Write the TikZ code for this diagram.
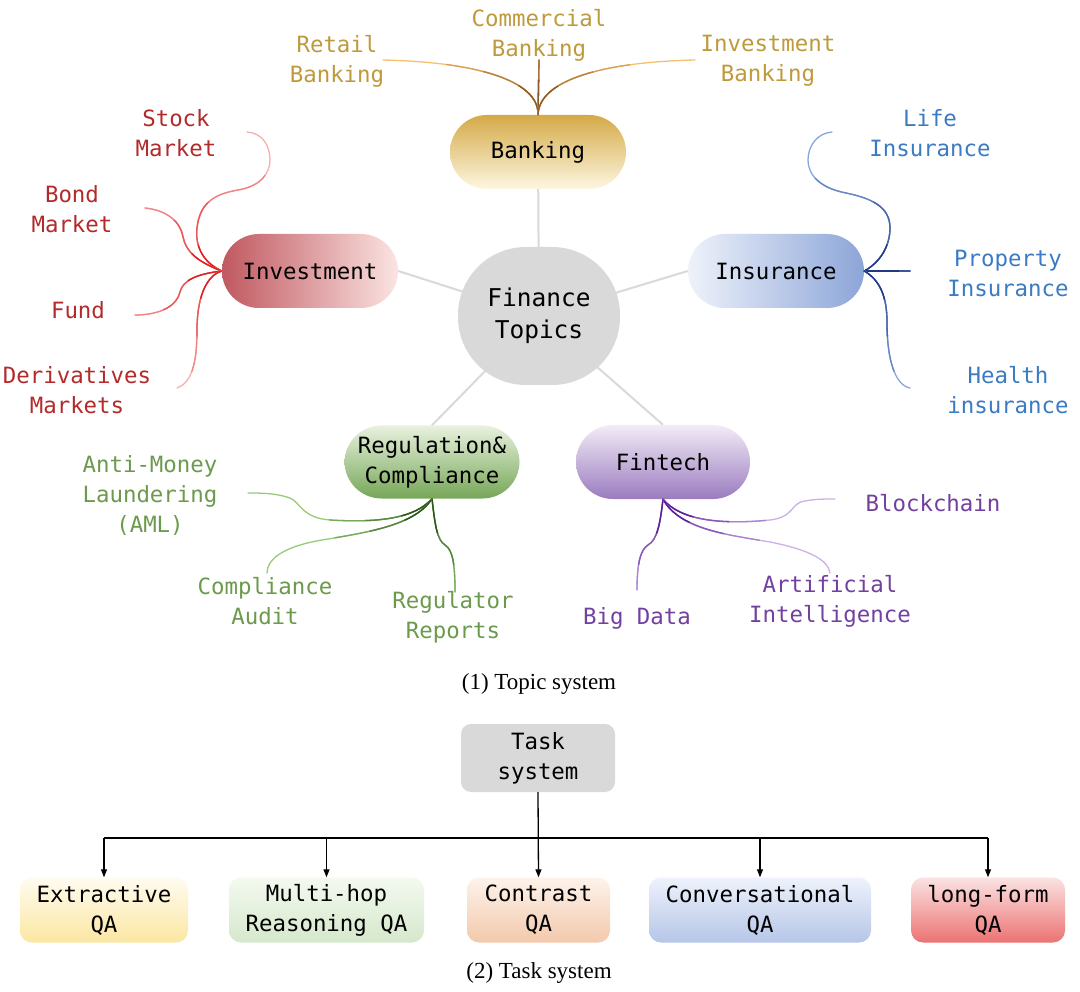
\documentclass[tikz,border=0pt]{standalone}
\usepackage{fontspec}
\setmainfont{Liberation Serif}
\newfontfamily\monof{DejaVu Sans Mono}
\usetikzlibrary{arrows.meta,backgrounds}
\definecolor{gline}{HTML}{D9D9D9}
\definecolor{bankt}{HTML}{BF9A3C}
\definecolor{bankd}{HTML}{8B5A2B}
\definecolor{bankl}{HTML}{F7C070}
\definecolor{invt}{HTML}{B32A2A}
\definecolor{invd}{HTML}{E21E1E}
\definecolor{invl}{HTML}{F7AFAF}
\definecolor{inst}{HTML}{3B7BC4}
\definecolor{insd}{HTML}{1F3A80}
\definecolor{insl}{HTML}{86A6DC}
\definecolor{regt}{HTML}{6C9A4C}
\definecolor{regd}{HTML}{2E5520}
\definecolor{regl}{HTML}{96CC78}
\definecolor{fint}{HTML}{7340A0}
\definecolor{find}{HTML}{5A1E96}
\definecolor{finl}{HTML}{CDB0E8}
\tikzset{
  mono/.style={font=\monof\fontsize{22.4}{30}\selectfont, align=center, inner sep=0pt},
  pill/.style={mono, minimum width=176pt, minimum height=74pt, rounded corners=37pt},
  leaf/.style={mono, yshift=-3pt},
  branch/.style={line width=1.3pt, line cap=round},
  hub/.style={draw=gline, line width=2pt},
  qabox/.style={mono, minimum height=65pt, rounded corners=12pt},
  tree/.style={line width=1.3pt, black},
  treearrow/.style={tree, -{Triangle[length=8pt,width=6pt]}},
  captext/.style={font=\fontsize{23}{26}\selectfont, inner sep=0pt}
}
% #1 anchor (node anchor near which colour is dark), #2 dark, #3 light, #4 path
\newcommand{\gradbranch}[4]{%
  \draw[branch,#3] #4;
  \begin{scope}\clip (#1) circle (105pt); \draw[branch,#2!30!#3] #4; \end{scope}
  \begin{scope}\clip (#1) circle (70pt); \draw[branch,#2!60!#3] #4; \end{scope}
  \begin{scope}\clip (#1) circle (35pt); \draw[branch,#2] #4; \end{scope}
}
\begin{document}
\begin{tikzpicture}[x=1pt,y=-1pt]
\useasboundingbox (0,0) rectangle (1080,992);

% main nodes
\node[mono, font=\monof\fontsize{24.5}{32}\selectfont, fill=gline, minimum width=162pt, minimum height=138pt, rounded corners=68pt] (center) at (539,316) {Finance\\Topics};
\node[pill, top color={rgb,255:red,212;green,170;blue,72}, bottom color={rgb,255:red,253;green,246;blue,224}] (bank) at (538,152) {Banking};
\node[pill, left color={rgb,255:red,192;green,88;blue,96}, right color={rgb,255:red,251;green,228;blue,226}] (inv) at (310,271) {Investment};
\node[pill, left color={rgb,255:red,238;green,242;blue,250}, right color={rgb,255:red,140;green,165;blue,216}] (ins) at (776,271) {Insurance};
\node[pill, minimum width=175pt, minimum height=73pt, top color={rgb,255:red,232;green,242;blue,222}, bottom color={rgb,255:red,118;green,166;blue,87}] (reg) at (432,462) {Regulation\&\\Compliance};
\node[pill, minimum width=174pt, top color={rgb,255:red,242;green,236;blue,246}, bottom color={rgb,255:red,154;green,123;blue,191}] (fin) at (663,462) {Fintech};

\begin{scope}[on background layer]
\fill[white] (0,0) rectangle (1080,992);
\draw[hub] (bank.center) -- (center.center);
\draw[hub] (inv.east) -- (center.center);
\draw[hub] (ins.west) -- (center.center);
\draw[hub] (reg.north) -- (center.center);
\draw[hub] (fin.north) -- (center.center);
\end{scope}

% Banking leaves
\coordinate (bR) at (383,60);
\coordinate (bC) at (539,60);
\coordinate (bI) at (695,60);
\node[leaf, text=bankt] (retail) at (337,58) {Retail\\Banking};
\node[leaf, text=bankt] (comm) at (539,32) {Commercial\\Banking};
\node[leaf, text=bankt] (ibank) at (768,58) {Investment\\Banking};
\gradbranch{bank.north}{bankd}{bankl}{(bank.north) .. controls (539,80) and (475,62) .. (bR)}
\gradbranch{bank.north}{bankd}{bankl!60!bankd}{(bank.north) -- (bC)}
\gradbranch{bank.north}{bankd}{bankl}{(bank.north) .. controls (539,80) and (603,62) .. (bI)}

% Investment leaves
\coordinate (iS) at (247,132);
\coordinate (iB) at (145,208);
\coordinate (iF) at (135,315);
\coordinate (iD) at (177,388);
\node[leaf, text=invt] (stock) at (176,130) {Stock\\Market};
\node[leaf, text=invt] (bond) at (72,206) {Bond\\Market};
\node[leaf, text=invt] (fund) at (78,307) {Fund};
\node[leaf, text=invt] (deriv) at (77,387) {Derivatives\\Markets};
\gradbranch{inv.west}{invd}{invl}{(inv.west) .. controls (202,262) and (195,245) .. (197,228)
   .. controls (200,202) and (215,194) .. (238,190)
   .. controls (262,186) and (270,172) .. (270,160)
   .. controls (270,145) and (262,133) .. (iS)}
\gradbranch{inv.west}{invd}{invl}{(inv.west) .. controls (198,262) and (186,252) .. (183,237)
   .. controls (180,220) and (165,210) .. (iB)}
\gradbranch{inv.west}{invd}{invl}{(inv.west) .. controls (197,274) and (183,280) .. (180,292)
   .. controls (177,306) and (160,315) .. (iF)}
\gradbranch{inv.west}{invd}{invl}{(inv.west) .. controls (205,276) and (197,300) .. (197,330)
   .. controls (197,365) and (191,383) .. (iD)}

% Insurance leaves
\coordinate (sL) at (832,132);
\coordinate (sP) at (910,271);
\coordinate (sH) at (910,388);
\node[leaf, text=inst] (life) at (930,130) {Life\\Insurance};
\node[leaf, text=inst] (prop) at (1008,270) {Property\\Insurance};
\node[leaf, text=inst] (health) at (1008,387) {Health\\insurance};
\gradbranch{ins.east}{insd}{insl}{(ins.east) .. controls (881,262) and (890,245) .. (890,228)
   .. controls (890,206) and (870,198) .. (846,193)
   .. controls (820,188) and (808,175) .. (808,160)
   .. controls (808,145) and (818,133) .. (sL)}
\gradbranch{ins.east}{insd}{insl!70!insd}{(ins.east) -- (sP)}
\gradbranch{ins.east}{insd}{insl}{(ins.east) .. controls (880,280) and (887,297) .. (887,322)
   .. controls (887,360) and (895,385) .. (sH)}

% Regulation leaves
\coordinate (rA) at (248,493);
\coordinate (rC) at (267,573);
\coordinate (rR) at (455,592);
\node[leaf, text=regt] (aml) at (150,492) {Anti-Money\\Laundering\\(AML)};
\node[leaf, text=regt] (caudit) at (265,598) {Compliance\\Audit};
\node[leaf, text=regt] (rrep) at (453,614) {Regulator\\Reports};
\gradbranch{reg.south}{regd}{regl}{(reg.south) .. controls (415,518) and (380,523) .. (330,520)
   .. controls (302,518) and (300,502) .. (290,498)
   .. controls (276,493) and (260,493) .. (rA)}
\gradbranch{reg.south}{regd}{regl}{(reg.south) .. controls (415,525) and (370,532) .. (322,540)
   .. controls (286,546) and (267,558) .. (rC)}
\gradbranch{reg.south}{regd}{regl}{(reg.south) .. controls (435,525) and (437,540) .. (445,545)
   .. controls (453,550) and (455,565) .. (rR)}

% Fintech leaves
\coordinate (fB) at (835,499);
\coordinate (fA) at (830,573);
\coordinate (fD) at (637,590);
\node[leaf, text=fint] (block) at (933,500) {Blockchain};
\node[leaf, text=fint] (ai) at (830,598) {Artificial\\Intelligence};
\node[leaf, text=fint] (bigd) at (637,615) {Big Data};
\gradbranch{fin.south}{find}{finl}{(fin.south) .. controls (680,520) and (720,525) .. (770,520)
   .. controls (795,517) and (790,503) .. (805,501)
   .. controls (815,499) and (825,499) .. (fB)}
\gradbranch{fin.south}{find}{finl}{(fin.south) .. controls (680,530) and (730,535) .. (770,542)
   .. controls (810,550) and (828,560) .. (fA)}
\gradbranch{fin.south}{find}{finl}{(fin.south) .. controls (660,525) and (657,540) .. (648,545)
   .. controls (640,550) and (637,565) .. (fD)}

\node[captext] (cap1) at (539,684) {(1) Topic system};

% Task system
\node[mono, fill=gline, minimum width=154pt, minimum height=68pt, rounded corners=10pt] (task) at (538,758) {Task\\system};
\node[qabox, minimum width=168pt, top color={rgb,255:red,255;green,252;blue,240}, bottom color={rgb,255:red,251;green,230;blue,162}] (e1) at (104,910) {Extractive\\QA};
\node[qabox, minimum width=195pt, top color={rgb,255:red,244;green,249;blue,240}, bottom color={rgb,255:red,213;green,232;blue,203}] (e2) at (326.5,910) {Multi-hop\\Reasoning QA};
\node[qabox, minimum width=143pt, top color={rgb,255:red,253;green,243;blue,236}, bottom color={rgb,255:red,243;green,201;blue,171}] (e3) at (538.5,910) {Contrast\\QA};
\node[qabox, minimum width=222pt, top color={rgb,255:red,238;green,242;blue,251}, bottom color={rgb,255:red,181;green,198;blue,232}] (e4) at (760,910) {Conversational\\QA};
\node[qabox, minimum width=154pt, top color={rgb,255:red,251;green,227;blue,227}, bottom color={rgb,255:red,236;green,114;blue,114}] (e5) at (988,910) {long-form\\QA};

\coordinate (bus) at (538,838);
\draw[treearrow] (task.south) -- (e3.north);
\draw[tree] (e1.north |- bus) -- (e5.north |- bus);
\draw[treearrow] (e1.north |- bus) -- (e1.north);
\draw[treearrow] (e2.north |- bus) -- (e2.north);
\draw[treearrow] (e4.north |- bus) -- (e4.north);
\draw[treearrow] (e5.north |- bus) -- (e5.north);

\node[captext] (cap2) at (539,973) {(2) Task system};
\end{tikzpicture}
\end{document}
